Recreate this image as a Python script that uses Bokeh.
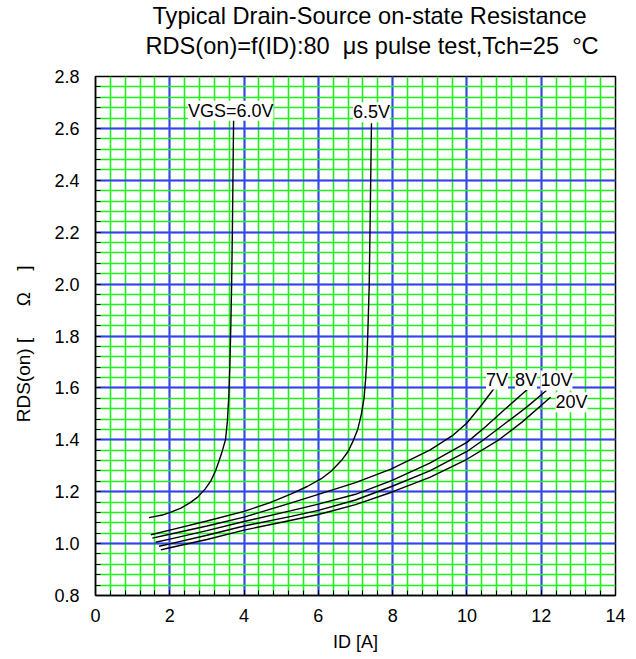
from bokeh.plotting import figure
from bokeh.models import Label, FixedTicker, PrintfTickFormatter, Range1d
from bokeh.layouts import column
from bokeh.core.properties import value
from bokeh.embed import file_html
from bokeh.resources import INLINE

# ---- data ----
id_60 = [1.44, 1.8, 2.03, 2.3, 2.55, 2.75, 2.95, 3.11, 3.23, 3.33, 3.42, 3.50,
         3.55, 3.59, 3.62, 3.645, 3.665, 3.685, 3.70, 3.72]
rds_60 = [1.100, 1.110, 1.121, 1.137, 1.158, 1.179, 1.21, 1.243, 1.28, 1.32, 1.36, 1.40,
          1.47, 1.57, 1.70, 1.85, 2.00, 2.20, 2.40, 2.656]

id_65 = [1.49, 2.0, 3.0, 4.0, 4.7, 5.27, 5.7, 6.08, 6.35, 6.62, 6.80, 6.94, 7.06,
         7.16, 7.23, 7.27, 7.31, 7.34, 7.37, 7.40, 7.43]
rds_65 = [1.034, 1.052, 1.087, 1.124, 1.158, 1.192, 1.22, 1.25, 1.28, 1.32, 1.355, 1.397, 1.44,
          1.50, 1.56, 1.629, 1.72, 1.85, 2.00, 2.30, 2.62]

id_7 = [1.53, 2.0, 3.0, 4.0, 5.27, 6.0, 7.0, 7.97, 9.0, 9.6, 10.0, 10.4, 10.81]
rds_7 = [1.021, 1.036, 1.068, 1.102, 1.157, 1.19, 1.235, 1.288, 1.36, 1.415, 1.465, 1.535, 1.613]

id_8 = [1.62, 2.0, 3.0, 4.0, 5.27, 6.0, 7.0, 7.97, 9.0, 10.0, 10.5, 11.0, 11.67]
rds_8 = [1.005, 1.017, 1.05, 1.085, 1.127, 1.152, 1.19, 1.243, 1.31, 1.39, 1.45, 1.515, 1.60]

id_10 = [1.71, 2.0, 3.0, 4.0, 5.27, 6.0, 7.0, 7.97, 9.0, 10.0, 10.45, 11.0, 11.6, 12.14]
rds_10 = [0.99, 0.999, 1.032, 1.068, 1.105, 1.128, 1.168, 1.22, 1.28, 1.355, 1.40, 1.46, 1.525, 1.59]

id_20 = [1.76, 2.0, 3.0, 4.0, 5.27, 6.0, 7.0, 7.97, 9.0, 10.0, 10.86, 11.5, 12.25]
rds_20 = [0.976, 0.984, 1.016, 1.052, 1.09, 1.112, 1.15, 1.198, 1.255, 1.325, 1.40, 1.47, 1.564]

curve_labels = ["VGS=6.0V", "6.5V", "7V", "8V", "10V", "20V"]
x_ticks = [0, 2, 4, 6, 8, 10, 12, 14]
y_ticks = [0.8, 1.0, 1.2, 1.4, 1.6, 1.8, 2.0, 2.2, 2.4, 2.6, 2.8]

title1 = "Typical Drain-Source on-state Resistance"
title2 = "RDS(on)=f(ID):80\u00a0\u00a0\u03bcs pulse test,Tch=25\u00a0\u00a0\u00b0C"
xlabel = "ID [A]"
NB = "\u00a0"
ylabel = "RDS(on) [" + NB * 6 + "\u03a9" + NB * 4 + "]" + NB * 3

FONT = "Liberation Sans"

# minor ticks: 5 subdivisions per major interval
x_minor = [round(i * 0.4, 2) for i in range(36)]
y_minor = [round(0.8 + i * 0.04, 3) for i in range(51)]

TITLE_H = 62
LEFT, RIGHT = 95, 21   # page x of the frame: 95 .. 615

# ---- title strip (its own small figure above the chart, pixel coordinates) ----
pt = figure(width=636, height=TITLE_H, x_range=Range1d(LEFT, 636 - RIGHT),
            y_range=Range1d(TITLE_H, 0),
            output_backend="svg", toolbar_location=None,
            min_border_left=LEFT, min_border_right=RIGHT,
            min_border_top=0, min_border_bottom=0,
            x_axis_type=None, y_axis_type=None)
pt.grid.visible = False
pt.outline_line_color = None
pt.background_fill_color = "white"
pt.border_fill_color = "white"
pt.text(x=[152, 145], y=[15, 45.5], text=[title1, title2],
        text_font=value(FONT), text_font_size="23.6px", text_color="black",
        text_align="left", text_baseline="alphabetic")

# ---- main chart ----
p = figure(width=636, height=659 - TITLE_H, x_range=(0, 14), y_range=(0.8, 2.8),
           output_backend="svg", toolbar_location=None,
           min_border_left=LEFT, min_border_right=RIGHT,
           min_border_top=76 - TITLE_H, min_border_bottom=64)
p.background_fill_color = "white"
p.border_fill_color = "white"
p.outline_line_color = "black"
p.outline_line_width = 1.5

xt = FixedTicker(ticks=x_ticks, minor_ticks=x_minor)
yt = FixedTicker(ticks=y_ticks, minor_ticks=y_minor)
p.xaxis.ticker = xt
p.yaxis.ticker = yt
p.xgrid.ticker = xt
p.ygrid.ticker = yt
p.yaxis.formatter = PrintfTickFormatter(format="%.1f")

for g in (p.xgrid, p.ygrid):
    g.grid_line_color = "#3c3cff"
    g.grid_line_width = 2
    g.minor_grid_line_color = "#1ef01e"
    g.minor_grid_line_width = 1.6
    g.level = "underlay"

for ax in (p.xaxis, p.yaxis):
    ax.axis_line_color = "black"
    ax.axis_line_width = 1.5
    ax.major_tick_in = 5
    ax.major_tick_out = 0
    ax.minor_tick_in = 5
    ax.minor_tick_out = 0
    ax.major_tick_line_color = "black"
    ax.minor_tick_line_color = "black"
    ax.major_label_text_font = FONT
    ax.major_label_text_font_size = "18px"
    ax.major_label_text_color = "black"
    ax.axis_label_text_font = FONT
    ax.axis_label_text_font_style = "normal"
    ax.axis_label_text_color = "black"

p.xaxis.axis_label = xlabel
p.yaxis.axis_label = ylabel
p.xaxis.axis_label_text_font_size = "18px"
p.yaxis.axis_label_text_font_size = "19px"
p.xaxis.major_label_standoff = 13
p.yaxis.major_label_standoff = 16
p.xaxis.axis_label_standoff = 7
p.yaxis.axis_label_standoff = 17

curves = [(id_60, rds_60), (id_65, rds_65), (id_7, rds_7),
          (id_8, rds_8), (id_10, rds_10), (id_20, rds_20)]
for xs, ys in curves:
    p.line(xs, ys, line_color="black", line_width=1.4)

# curve labels anchored at curve ends (pixel offsets)
offsets = [(-3, 3, "center"), (0, 11, "center"), (0, 5, "center"),
           (-3, 8, "center"), (-6, 10, "left"), (5, -5, "left")]
for (xs, ys), txt, (dx, dy, al) in zip(curves, curve_labels, offsets):
    p.add_layout(Label(x=xs[-1], y=ys[-1], x_offset=dx, y_offset=dy, text=txt,
                       text_font=FONT, text_font_size="18px", text_color="black",
                       text_align=al, text_baseline="alphabetic",
                       background_fill_color="white", background_fill_alpha=1.0))

layout = column(pt, p, spacing=0)
open("out.html", "w").write(file_html(layout, INLINE))
